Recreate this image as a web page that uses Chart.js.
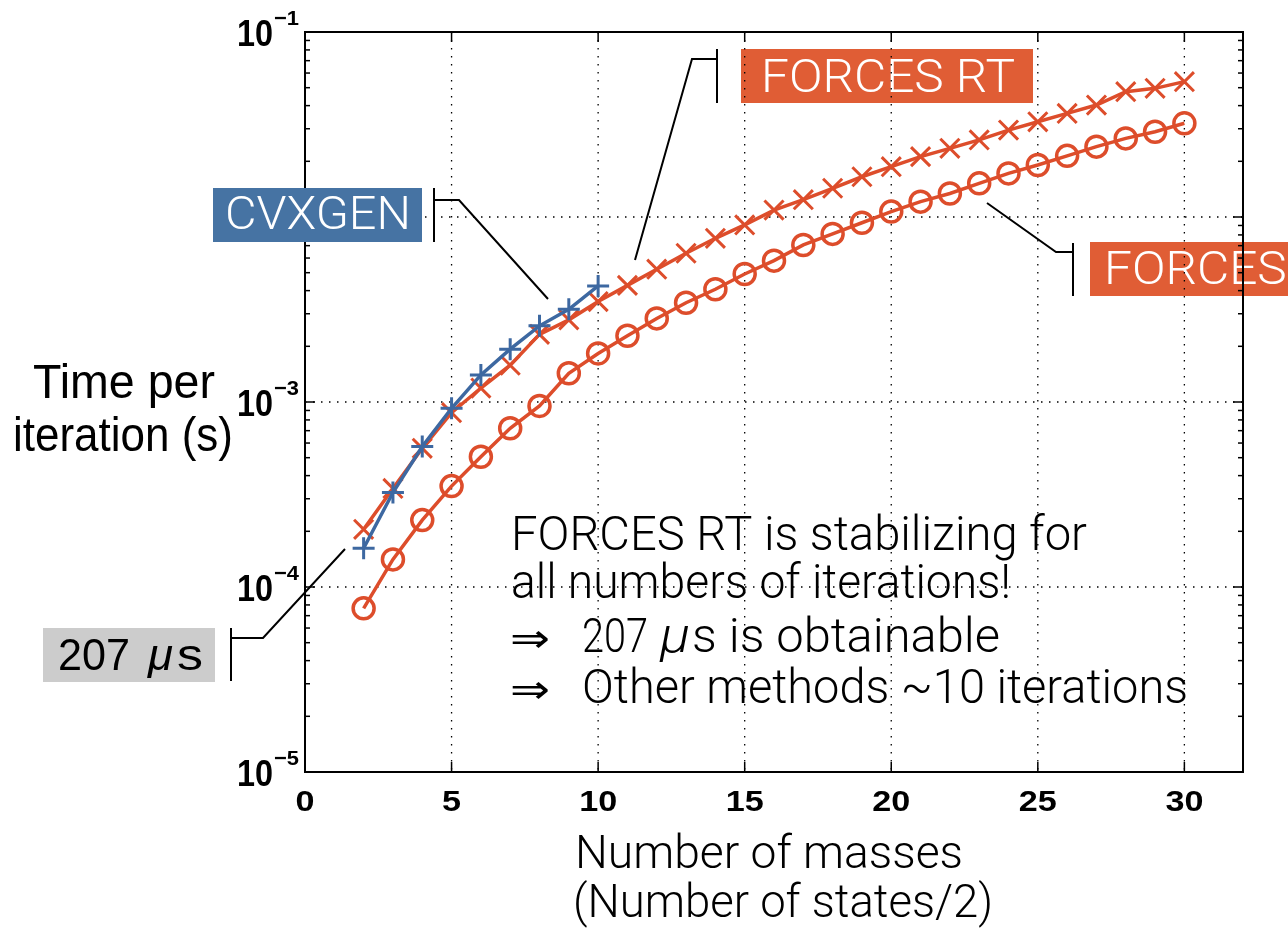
<!DOCTYPE html>
<html>
<head>
<meta charset="utf-8">
<title>Time per iteration vs number of masses</title>
<script src="https://cdn.jsdelivr.net/npm/chart.js@4.4.1/dist/chart.umd.min.js"></script>
<style>
  html, body { margin: 0; padding: 0; background: #fff; }
  #wrap { width: 1288px; height: 931px; }
</style>
</head>
<body>
<div id="wrap"><canvas id="timingChart" width="1288" height="931"></canvas></div>
<script>
// --- data (seconds per iteration) ---
const massesCvxgen = [2, 3, 4, 5, 6, 7, 8, 9, 10];
const timeCvxgen = [1.62e-4, 3.24e-4, 5.74e-4, 9.25e-4, 1.40e-3, 1.93e-3, 2.58e-3, 3.17e-3, 4.24e-3];

const massesForces = [2, 3, 4, 5, 6, 7, 8, 9, 10, 11, 12, 13, 14, 15, 16,
  17, 18, 19, 20, 21, 22, 23, 24, 25, 26, 27, 28, 29, 30];
const timeForcesRt = [2.05e-4, 3.41e-4, 5.62e-4, 8.75e-4, 1.19e-3, 1.58e-3, 2.32e-3, 2.78e-3,
  3.49e-3, 4.27e-3, 5.22e-3, 6.37e-3, 7.67e-3, 9.06e-3, 1.09e-2, 1.24e-2, 1.43e-2, 1.65e-2,
  1.87e-2, 2.12e-2, 2.35e-2, 2.61e-2, 2.95e-2, 3.27e-2, 3.63e-2, 4.03e-2, 4.76e-2, 4.96e-2, 5.39e-2];
const timeForces = [7.67e-5, 1.41e-4, 2.30e-4, 3.51e-4, 5.06e-4, 7.21e-4, 9.52e-4, 1.43e-3,
  1.83e-3, 2.28e-3, 2.83e-3, 3.44e-3, 4.07e-3, 4.92e-3, 5.81e-3, 7.06e-3, 8.10e-3, 9.31e-3,
  1.07e-2, 1.21e-2, 1.34e-2, 1.52e-2, 1.72e-2, 1.91e-2, 2.14e-2, 2.40e-2, 2.66e-2, 2.89e-2, 3.21e-2];

const xTickValues = [0, 5, 10, 15, 20, 25, 30];
const yDecades = [-5, -4, -3, -2, -1];

const RED = "#dd4d2b";
const BLUE = "#3d68a1";
const BOX_ORANGE = "#e05d35";
const BOX_BLUE = "#4673a3";
const BOX_GRAY = "#cccccc";

const LIGHT = "Roboto, 'Liberation Sans', sans-serif";
const PLAIN = "'Liberation Sans', Arial, sans-serif";

// =======================================================
//        helpers
// =======================================================

function toPoints(xs, ys) {
  return xs.map((x, i) => ({ x: x, y: ys[i] }));
}

// draw text, optionally squeezed/stretched to a given width
function drawText(ctx, str, x, y, font, color, opts) {
  opts = opts || {};
  ctx.save();
  ctx.font = font;
  ctx.fillStyle = color;
  ctx.textBaseline = "alphabetic";
  ctx.textAlign = "left";
  const w = ctx.measureText(str).width;
  const sx = opts.width ? opts.width / w : opts.sx || 1;
  let x0 = x;
  if (opts.align === "center") x0 = x - (w * sx) / 2;
  if (opts.align === "right") x0 = x - w * sx;
  ctx.translate(x0, y);
  ctx.scale(sx, 1);
  ctx.fillText(str, 0, 0);
  ctx.restore();
  return sx;
}

function line(ctx, x1, y1, x2, y2) {
  ctx.beginPath();
  ctx.moveTo(x1, y1);
  ctx.lineTo(x2, y2);
  ctx.stroke();
}

// callout: short vertical bar plus a bent pointer line
function leader(ctx, barX, barTop, barBottom, path) {
  ctx.save();
  ctx.strokeStyle = "#000";
  ctx.lineWidth = 2;
  line(ctx, barX, barTop, barX, barBottom);
  ctx.beginPath();
  ctx.moveTo(path[0][0], path[0][1]);
  path.slice(1).forEach((p) => ctx.lineTo(p[0], p[1]));
  ctx.stroke();
  ctx.restore();
}

function box(ctx, x, y, w, h, color) {
  ctx.save();
  ctx.fillStyle = color;
  ctx.fillRect(x, y, w, h);
  ctx.restore();
}

// =======================================================
//        plugin: frame, grid, ticks, labels, callouts
// =======================================================

const matlabLook = {
  id: "matlabLook",
  beforeDatasetsDraw(chart) {
    const ctx = chart.ctx;
    const a = chart.chartArea;
    const xs = chart.scales.x;
    const ys = chart.scales.y;

    // orange callouts sit under the grid and axes
    box(ctx, 741, 49, 292, 54, BOX_ORANGE);
    const sx = drawText(ctx, "FORCES RT", 761, 92, "300 46px " + LIGHT, "#fff", { width: 254 });
    box(ctx, 1090, 242, 210, 54, BOX_ORANGE);
    drawText(ctx, "FORCES", 1104, 284, "300 46px " + LIGHT, "#fff", { sx: sx });

    // dotted grid
    ctx.save();
    ctx.strokeStyle = "#000";
    ctx.lineWidth = 1.3;
    ctx.setLineDash([1.5, 6.5]);
    xTickValues.forEach((v) => {
      if (v === 0) return;
      const px = xs.getPixelForValue(v);
      line(ctx, px, a.top, px, a.bottom);
    });
    yDecades.forEach((k) => {
      if (k === -5 || k === -1) return;
      const py = ys.getPixelForValue(Math.pow(10, k));
      line(ctx, a.left, py, a.right, py);
    });
    ctx.restore();

    // ticks on all four sides
    ctx.save();
    ctx.strokeStyle = "#000";
    ctx.lineWidth = 1.5;
    yDecades.forEach((k) => {
      const dec = Math.pow(10, k);
      const py = ys.getPixelForValue(dec);
      line(ctx, a.left, py, a.left + 10, py);
      line(ctx, a.right - 10, py, a.right, py);
      if (k === -1) return;
      for (let m = 2; m <= 9; m++) {
        const pm = ys.getPixelForValue(m * dec);
        line(ctx, a.left, pm, a.left + 5, pm);
        line(ctx, a.right - 5, pm, a.right, pm);
      }
    });
    xTickValues.forEach((v) => {
      const px = xs.getPixelForValue(v);
      line(ctx, px, a.bottom, px, a.bottom - 10);
      line(ctx, px, a.top, px, a.top + 10);
    });
    ctx.lineWidth = 2;
    ctx.strokeRect(a.left, a.top, a.right - a.left, a.bottom - a.top);
    ctx.restore();
  },

  afterDraw(chart) {
    const ctx = chart.ctx;
    const xs = chart.scales.x;
    const ys = chart.scales.y;

    // tick labels
    const tickFont = "bold 29px " + PLAIN;
    ctx.save();
    ctx.font = tickFont;
    const tsx = 38 / ctx.measureText("10").width;
    ctx.restore();
    xTickValues.forEach((v) => {
      drawText(ctx, String(v), xs.getPixelForValue(v), 811, tickFont, "#000", { sx: tsx, align: "center" });
    });
    yDecades.forEach((k) => {
      const py = ys.getPixelForValue(Math.pow(10, k));
      drawText(ctx, "10", 237, py + 14, "bold 36px " + PLAIN, "#000", { width: 36 });
      drawText(ctx, "\u2212" + String(-k), 274, py - 7, "bold 21px " + PLAIN, "#000", { width: 25 });
    });

    // axis titles
    drawText(ctx, "Time per", 124, 398, "48px " + PLAIN, "#000", { width: 182, align: "center" });
    drawText(ctx, "iteration (s)", 123, 451, "48px " + PLAIN, "#000", { width: 220, align: "center" });
    drawText(ctx, "Number of masses", 575, 868, "300 46px " + LIGHT, "#000", { width: 388 });
    drawText(ctx, "(Number of states/2)", 573, 917, "300 46px " + LIGHT, "#000", { width: 420 });

    // callout pointers
    leader(ctx, 717, 49, 103, [[717, 59], [692, 59], [635, 260]]);
    leader(ctx, 434, 188, 242, [[434, 200], [459, 200], [548, 299]]);
    leader(ctx, 1073, 243, 296, [[1073, 252], [1056, 252], [987, 203]]);
    leader(ctx, 231, 628, 681, [[231, 638], [263, 638], [345, 549]]);

    // blue and grey callouts cover the axis
    box(ctx, 213, 188, 209, 54, BOX_BLUE);
    drawText(ctx, "CVXGEN", 225, 229, "300 46px " + LIGHT, "#fff", { width: 186 });

    box(ctx, 43, 628, 172, 54, BOX_GRAY);
    drawText(ctx, "207", 58, 670, "45px " + PLAIN, "#000", { width: 72 });
    drawText(ctx, "\u03bc", 148, 670, "italic 45px " + PLAIN, "#000", { width: 25 });
    drawText(ctx, "s", 177, 670, "45px " + PLAIN, "#000", { width: 26 });

    // note in the plot
    const note = "300 49px " + LIGHT;
    drawText(ctx, "FORCES RT is stabilizing for", 511, 550, note, "#000", { width: 576 });
    drawText(ctx, "all numbers of iterations!", 511, 598, note, "#000", { width: 500 });
    drawText(ctx, "\u21d2", 510, 652, "40px 'DejaVu Sans', sans-serif", "#000", { width: 40 });
    drawText(ctx, "207", 582, 652, note, "#000", { width: 66 });
    drawText(ctx, "\u03bc", 660, 652, "italic 300 49px " + LIGHT, "#000", { width: 30 });
    drawText(ctx, "s is obtainable", 692, 652, note, "#000", { width: 308 });
    drawText(ctx, "\u21d2", 510, 703, "40px 'DejaVu Sans', sans-serif", "#000", { width: 40 });
    drawText(ctx, "Other methods ~10 iterations", 582, 703, note, "#000", { width: 606 });
  },
};

// =======================================================
//        chart
// =======================================================

new Chart(document.getElementById("timingChart").getContext("2d"), {
  type: "line",
  data: {
    datasets: [
      {
        label: "CVXGEN",
        data: toPoints(massesCvxgen, timeCvxgen),
        borderColor: BLUE,
        backgroundColor: BLUE,
        borderWidth: 3.5,
        pointStyle: "cross",
        pointRadius: 11,
        pointBorderWidth: 3,
        order: 0,
      },
      {
        label: "FORCES RT",
        data: toPoints(massesForces, timeForcesRt),
        borderColor: RED,
        backgroundColor: RED,
        borderWidth: 3.5,
        pointStyle: "crossRot",
        pointRadius: 13.5,
        pointBorderWidth: 3,
        order: 1,
      },
      {
        label: "FORCES",
        data: toPoints(massesForces, timeForces),
        borderColor: RED,
        backgroundColor: "rgba(0,0,0,0)",
        borderWidth: 3.5,
        pointStyle: "circle",
        pointRadius: 10.5,
        pointBorderWidth: 3.5,
        order: 2,
      },
    ],
  },
  options: {
    responsive: false,
    animation: false,
    events: [],
    layout: { padding: { left: 305, top: 32, right: 45, bottom: 159 } },
    plugins: { legend: { display: false }, tooltip: { enabled: false } },
    scales: {
      x: { type: "linear", min: 0, max: 32, display: false },
      y: { type: "logarithmic", min: 1e-5, max: 1e-1, display: false },
    },
  },
  plugins: [matlabLook],
});
</script>
</body>
</html>
